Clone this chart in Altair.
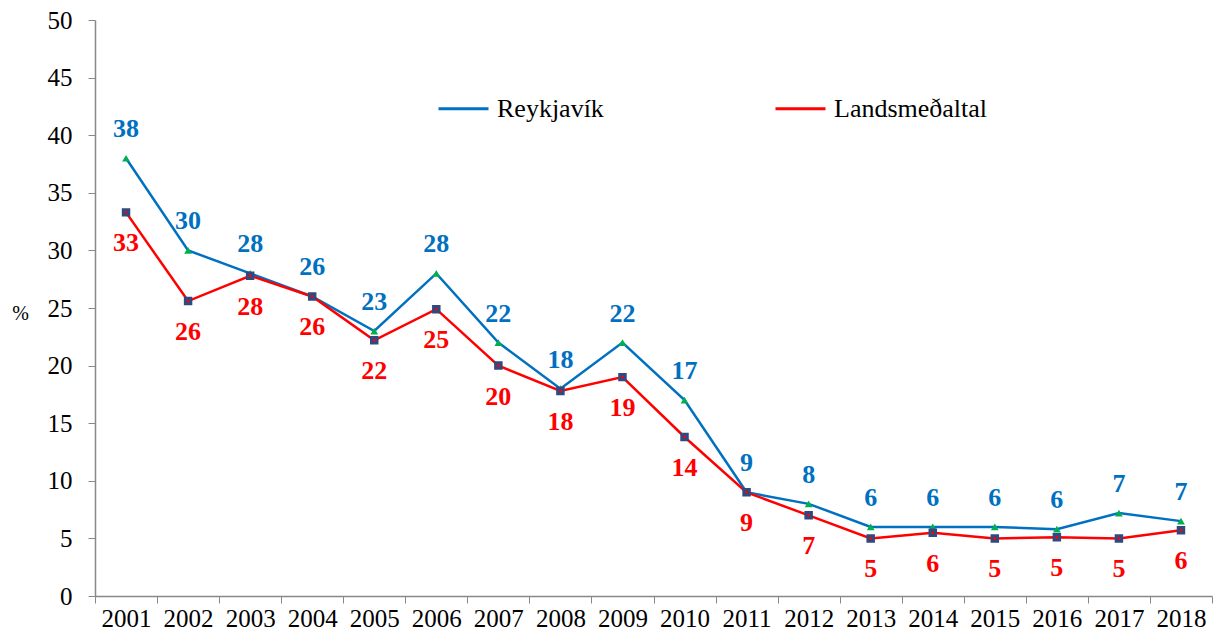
import altair as alt
import pandas as pd

years = [str(y) for y in range(2001, 2019)]
reykjavik = [38, 30, 28, 26, 23, 28, 22, 18, 22, 17, 9, 8, 6, 6, 6, 5.8, 7.2, 6.5]
lands = [33.3, 25.6, 27.8, 26, 22.2, 24.9, 20, 17.8, 19, 13.8, 9, 7, 5, 5.5, 5, 5.1, 5, 5.7]
reyk_labels = ["38", "30", "28", "26", "23", "28", "22", "18", "22", "17", "9", "8", "6", "6", "6", "6", "7", "7"]
lands_labels = ["33", "26", "28", "26", "22", "25", "20", "18", "19", "14", "9", "7", "5", "6", "5", "5", "5", "6"]
series = ["Reykjavík", "Landsmeðaltal"]
colors = ["#0070C0", "#FF0000"]

rows = []
for i, y in enumerate(years):
    rows.append({"year": y, "value": reykjavik[i], "series": series[0], "label": reyk_labels[i]})
    rows.append({"year": y, "value": lands[i], "series": series[1], "label": lands_labels[i]})
df = pd.DataFrame(rows)

FONT = "Liberation Serif"

x_enc = alt.X("year:O", scale=alt.Scale(type="band", paddingInner=0, paddingOuter=0),
              axis=alt.Axis(title=None, labelAngle=0, tickBand="extent", labelFontSize=25,
                            labelFont=FONT, labelColor="#000", labelPadding=3))
y_enc = alt.Y("value:Q", scale=alt.Scale(domain=[0, 50]),
              axis=alt.Axis(values=list(range(0, 51, 5)), grid=False, labelFontSize=25,
                            labelFont=FONT, labelColor="#000", labelPadding=16,
                            title="%", titleAngle=0, titleX=-75, titleY=293,
                            titleAlign="center", titleBaseline="middle",
                            titleFontWeight="normal", titleFontSize=20, titleFont=FONT,
                            titleColor="#000"))

color_enc = alt.Color("series:N", scale=alt.Scale(domain=series, range=colors),
                      legend=alt.Legend(title=None, orient="none", direction="horizontal",
                                        legendX=342, legendY=62, symbolType="stroke",
                                        symbolSize=2500, symbolStrokeWidth=3,
                                        labelFont=FONT, labelFontSize=26, labelColor="#000",
                                        columnPadding=165, labelOffset=7))

base = alt.Chart(df)

lines = base.mark_line(strokeWidth=2.5).encode(x=x_enc, y=y_enc, color=color_enc)

tri = base.transform_filter(alt.datum.series == series[0]).mark_point(
    shape="triangle-up", filled=True, color="#00B050", size=60, opacity=1
).encode(x="year:O", y="value:Q")

sq = base.transform_filter(alt.datum.series == series[1]).mark_point(
    shape="square", filled=True, fill="#FF0000", stroke="#2F4A80", strokeWidth=3,
    size=30, opacity=1
).encode(x="year:O", y="value:Q")

t_blue = base.transform_filter(alt.datum.series == series[0]).mark_text(
    font=FONT, fontSize=26, fontWeight="bold", color="#0070C0", dy=-29, baseline="middle"
).encode(x="year:O", y="value:Q", text="label:N")

t_red = base.transform_filter(alt.datum.series == series[1]).mark_text(
    font=FONT, fontSize=26, fontWeight="bold", color="#FF0000", dy=31, baseline="middle"
).encode(x="year:O", y="value:Q", text="label:N")

chart = alt.layer(lines, tri, sq, t_blue, t_red).properties(
    width=1117, height=576,
    autosize=alt.AutoSizeParams(type="none"),
    padding={"left": 87, "top": 12, "right": 4, "bottom": 34},
).configure_view(stroke=None).configure_axis(
    domainColor="#888888", tickColor="#888888", tickSize=7, domainWidth=1.5
)

chart.save("out.html", embed_options={"renderer": "svg", "actions": False})
